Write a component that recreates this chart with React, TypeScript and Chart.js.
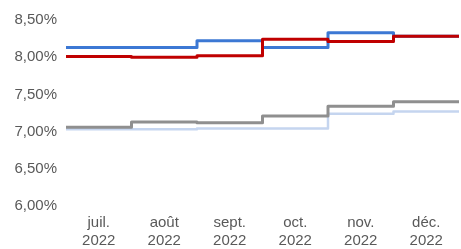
import React, { useEffect, useRef } from "react";
import { Chart, registerables } from "chart.js";

Chart.register(...registerables);

const months = ["juil.", "août", "sept.", "oct.", "nov.", "déc."];
const years = ["2022", "2022", "2022", "2022", "2022", "2022"];
const darkBlue = [8.13, 8.13, 8.22, 8.13, 8.33, 8.28];
const red = [8.01, 8.0, 8.02, 8.24, 8.21, 8.28];
const grey = [7.06, 7.13, 7.12, 7.21, 7.34, 7.4];
const lightBlue = [7.03, 7.03, 7.04, 7.04, 7.24, 7.27];
const yTicks = [6.0, 6.5, 7.0, 7.5, 8.0, 8.5];

function toSteps(values: number[]) {
  const pts = values.map((v, i) => ({ x: i, y: v }));
  pts.push({ x: values.length, y: values[values.length - 1] });
  return pts;
}

export default function App() {
  const ref = useRef<HTMLCanvasElement | null>(null);
  useEffect(() => {
    document.body.style.margin = "0";
    const font = { family: "'Liberation Sans', Arial, sans-serif", size: 15 };
    const ds = (label: string, data: number[], color: string, width: number) => ({
      label,
      data: toSteps(data),
      borderColor: color,
      backgroundColor: color,
      borderWidth: width,
      stepped: "before" as const,
      pointRadius: 0,
      fill: false,
      borderJoinStyle: "round" as const,
    });
    const chart = new Chart(ref.current!, {
      type: "line",
      data: {
        datasets: [
          ds("red", red, "#C00000", 3),
          ds("blue", darkBlue, "#3C78D4", 3),
          ds("grey", grey, "#8F8F8F", 3),
          ds("light", lightBlue, "#C5D5EF", 2.5),
        ],
      },
      options: {
        animation: false,
        responsive: false,
        layout: { padding: { top: 20, right: 2, left: 0, bottom: 0 } },
        plugins: { legend: { display: false }, tooltip: { enabled: false } },
        scales: {
          x: {
            type: "linear",
            min: 0,
            max: months.length,
            grid: { display: false, drawTicks: false },
            border: { display: false },
            afterBuildTicks: (scale: any) => {
              scale.ticks = months.map((_, i) => ({ value: i + 0.5 }));
            },
            afterFit: (scale: any) => {
              scale.height = 43;
            },
            ticks: {
              autoSkip: false,
              maxRotation: 0,
              padding: 8,
              color: "#595959",
              font,
              callback: (v: any) => {
                const i = Math.floor(Number(v));
                return [months[i], years[i]];
              },
            },
          },
          y: {
            min: 6,
            max: 8.5,
            grid: { display: false, drawTicks: false },
            border: { display: false },
            afterBuildTicks: (scale: any) => {
              scale.ticks = yTicks.map((v) => ({ value: v }));
            },
            afterFit: (scale: any) => {
              scale.width = 66;
            },
            ticks: {
              padding: 9,
              color: "#595959",
              font,
              callback: (v: any) => Number(v).toFixed(2).replace(".", ",") + "%",
            },
          },
        },
      },
    });
    return () => chart.destroy();
  }, []);
  return (
    <div style={{ width: 461, height: 249 }}>
      <canvas ref={ref} width={461} height={249} />
    </div>
  );
}
